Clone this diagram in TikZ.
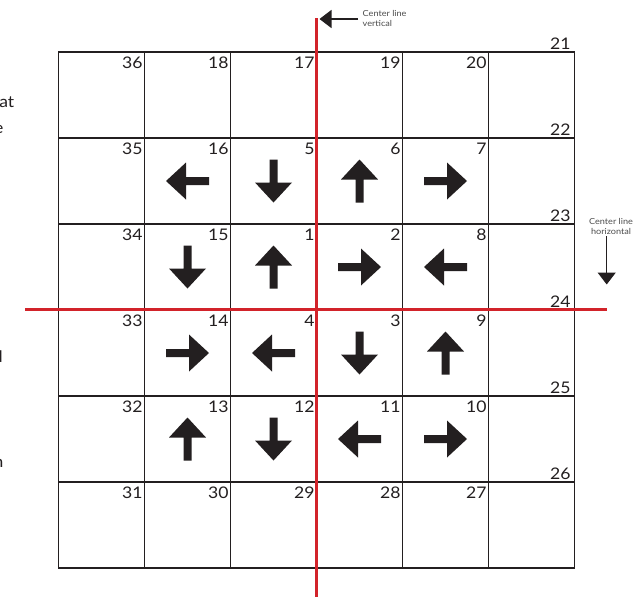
\documentclass[tikz,border=0pt]{standalone}
\usepackage{fontspec}
\setmainfont{Lato}[FakeStretch=1.1]
\usetikzlibrary{arrows.meta}
\definecolor{redline}{HTML}{D2232A}
\definecolor{ink}{HTML}{231F20}
\definecolor{notegray}{HTML}{4D4D4D}
\begin{document}
\begin{tikzpicture}[x=1pt,y=-1pt,
  cell/.style={draw=ink,line width=1.6pt,minimum width=86pt,minimum height=86pt,inner sep=0pt,outer sep=0pt},
  num/.style={inner sep=0pt,font=\fontsize{16}{16}\selectfont,text=ink},
  redl/.style={draw=redline,line width=3pt},
  notetext/.style={font=\fontsize{8.3}{10}\selectfont,text=notegray,align=left,inner sep=0pt},
  pointer/.style={draw=ink,line width=1.4pt,-{Triangle[length=12pt,width=18pt]}},
  barrow/.pic={\fill[ink] (0,-21.5)--(18.5,-1.5)--(4,-1.5)--(4,21.5)--(-4,21.5)--(-4,-1.5)--(-18.5,-1.5)--cycle;}
]
\useasboundingbox (0,0) rectangle (643,598);
\fill[white] (0,0) rectangle (643,598);

% grid cells
\foreach \r in {0,...,5}{
  \foreach \c in {0,...,5}{
    \node[cell] (c\r\c) at ({101.5+86*\c},{95+86*\r}) {};
  }
}

% numbers in the top-right corner of the cells
\foreach \r/\c/\n in {0/0/36,0/1/18,0/2/17,0/3/19,0/4/20,
                      1/0/35,1/1/16,1/2/5,1/3/6,1/4/7,
                      2/0/34,2/1/15,2/2/1,2/3/2,2/4/8,
                      3/0/33,3/1/14,3/2/4,3/3/3,3/4/9,
                      4/0/32,4/1/13,4/2/12,4/3/11,4/4/10,
                      5/0/31,5/1/30,5/2/29,5/3/28,5/4/27}{
  \node[num,anchor=north east] (n\n) at ([xshift=-1.8pt,yshift=-4.6pt]c\r\c.north east) {\n};
}
% numbers of the right column, set on top of the cell border
\foreach \r/\n in {0/21,1/22,2/23,3/24,4/25,5/26}{
  \node[num,anchor=south east] (n\n) at ([xshift=-3.8pt,yshift=2.5pt]c\r5.north east) {\n};
}

% block arrows: up=0, left=90, down=180, right=-90
\foreach \cellname/\ang in {c11/90,c12/180,c13/0,c14/-90,
                            c21/180,c22/0,c23/-90,c24/90,
                            c31/-90,c32/90,c33/180,c34/0,
                            c41/0,c42/180,c43/90,c44/-90}{
  \pic[rotate=\ang] at (\cellname) {barrow};
}

% red centre lines
\coordinate (vtop) at (316.5,18);
\coordinate (vbot) at (316.5,597);
\coordinate (hleft) at (25,309.5);
\coordinate (hright) at (607,309.5);
\draw[redl] (vtop) -- (vbot);
\draw[redl] (hleft) -- (hright);

% annotations
\node[notetext,anchor=west] (vnote) at (362.5,18.5) {Center line\\vertical};
\coordinate (vptstart) at (358,19);
\coordinate (vptend) at (319.5,19);
\draw[pointer] (vptstart) -- (vptend);

\node[notetext,align=center,anchor=north] (hnote) at (611,218.5) {Center line\\horizontal};
\coordinate (hptstart) at (606.7,236);
\coordinate (hptend) at (606.7,284.5);
\draw[pointer] (hptstart) -- (hptend);

% cut-off text fragments at the left edge
\node[num,anchor=base east] (fa) at (14.5,107) {at};
\node[num,anchor=base east] (fb) at (3.6,133) {e};
\node[num,anchor=base east] (fc) at (3.0,362) {d};
\node[num,anchor=base east] (fd) at (3.6,467) {n};
\end{tikzpicture}
\end{document}
